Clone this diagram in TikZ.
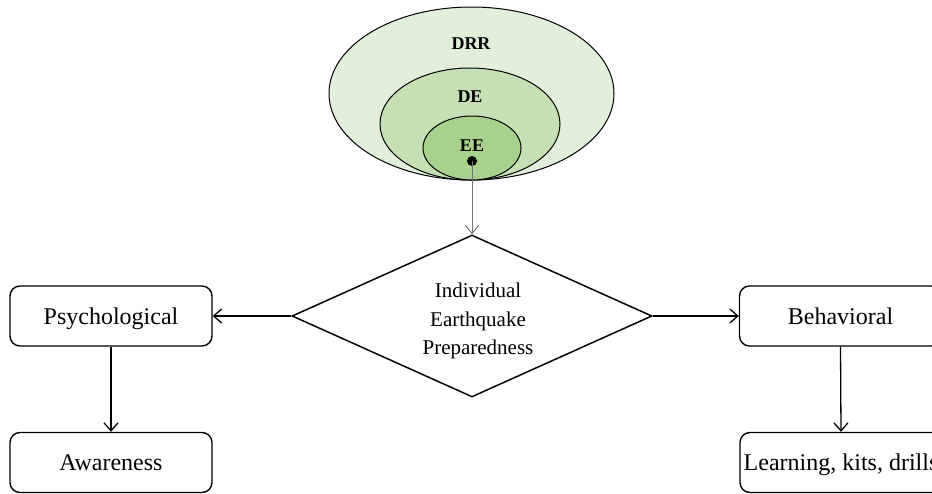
\documentclass[tikz,border=0pt]{standalone}
\usepackage{fontspec}
\setmainfont{Liberation Serif}
\usetikzlibrary{shapes.geometric,arrows.meta}
\definecolor{ringA}{HTML}{E2EFDA}
\definecolor{ringB}{HTML}{C5E0B4}
\definecolor{ringC}{HTML}{A9D18E}
\begin{document}
\begin{tikzpicture}[x=1pt,y=-1pt,
  ring/.style={ellipse,draw=black,line width=1pt,inner sep=0pt},
  ringlabel/.style={font=\fontsize{18}{20}\selectfont\bfseries,inner sep=0pt},
  box/.style={draw=black,line width=1.4pt,rounded corners=10pt,
    minimum width=202pt,minimum height=60pt,
    text height=18pt,text depth=2pt,font=\fontsize{24}{28}\selectfont},
  decision/.style={diamond,draw=black,line width=1.5pt,aspect=2.2,inner sep=0pt,
    minimum width=360pt,minimum height=162pt},
  decisiontext/.style={align=center,inner sep=0pt,font=\fontsize{21}{28.5}\selectfont},
  flow/.style={line width=1.3pt,-{Straight Barb[length=8pt,width=14pt,line width=1.3pt]}},
  feed/.style={black!55,line width=1pt,-{Straight Barb[length=8pt,width=13pt,line width=1pt]}}]
\useasboundingbox (0,0) rectangle (932,493);
\clip (0,0) rectangle (932,493);

% nested education scopes
\node[ring,fill=ringA,minimum width=285pt,minimum height=173pt] (drr) at (471.5,93.5) {};
\node[ring,fill=ringB,minimum width=180pt,minimum height=112pt] (de) at (470,124) {};
\node[ring,fill=ringC,minimum width=98pt,minimum height=64pt] (ee) at (472,148) {};
\node[ringlabel] (drrlabel) at (471,44) {DRR};
\node[ringlabel] (delabel) at (470,97) {DE};
\node[ringlabel] (eelabel) at (472,146) {EE};
\node[circle,fill=black,inner sep=0pt,minimum size=10pt] (dot) at (472,161) {};

% central decision
\node[decision] (iep) at (472,316) {};
\node[decisiontext] (ieptext) at (478,321) {Individual\\Earthquake\\Preparedness};

% outcome boxes
\node[box] (psy) at (111,316) {Psychological};
\node[box] (aware) at (111,462.5) {Awareness};
\node[box] (beh) at (840.5,316) {Behavioral};
\node[box] (learn) at (841,462.5) {Learning, kits, drills};

% connectors
\draw[feed] (dot.center) -- (iep.north);
\draw[flow] (iep.west) -- (psy.east);
\draw[flow] (iep.east) -- (beh.west);
\draw[flow] (psy.south) -- (aware.north);
\draw[flow] (beh.south) -- (learn.north);
\end{tikzpicture}
\end{document}
